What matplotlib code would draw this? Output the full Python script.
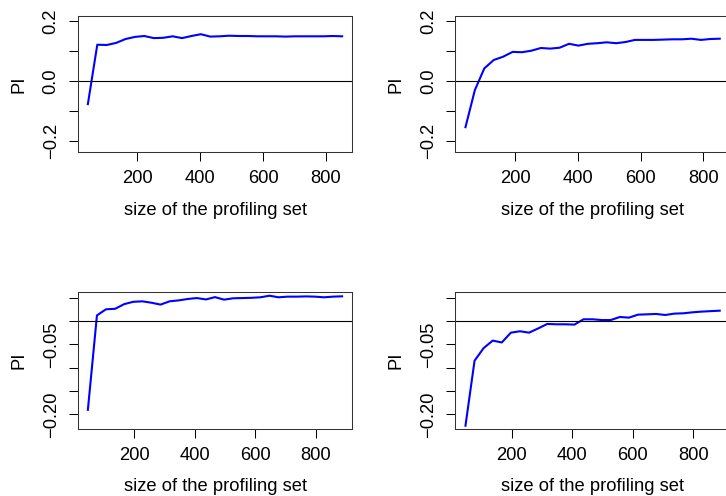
import matplotlib
matplotlib.use("Agg")
import matplotlib.pyplot as plt
import numpy as np

plt.rcParams['font.family'] = ['Liberation Sans', 'DejaVu Sans']

# x values (size of the profiling set)
x_top = [42, 72, 102, 132, 162, 192, 222, 252, 282, 312, 342, 372, 402, 432,
         462, 492, 522, 552, 582, 612, 642, 672, 702, 732, 762, 792, 822, 852]
x_bottom = [47, 77, 107, 137, 167, 197, 227, 257, 287, 317, 347, 377, 407, 437, 467,
            497, 527, 557, 587, 617, 647, 677, 707, 737, 767, 797, 827, 857, 887]

# PI values
pi_top_left = [-0.076, 0.122, 0.121, 0.128, 0.141, 0.148, 0.151, 0.144, 0.145, 0.150,
               0.144, 0.151, 0.157, 0.149, 0.150, 0.152, 0.151, 0.151, 0.150, 0.150,
               0.150, 0.149, 0.150, 0.150, 0.150, 0.150, 0.151, 0.150]
pi_top_right = [-0.153, -0.029, 0.043, 0.071, 0.082, 0.098, 0.097, 0.102, 0.111, 0.109,
                0.112, 0.125, 0.119, 0.125, 0.127, 0.130, 0.127, 0.131, 0.138, 0.138,
                0.138, 0.139, 0.140, 0.140, 0.142, 0.138, 0.141, 0.142]
pi_bottom_left = [-0.190, 0.012, 0.025, 0.026, 0.036, 0.041, 0.042, 0.039, 0.035, 0.042,
                  0.044, 0.047, 0.049, 0.046, 0.051, 0.0456, 0.0485, 0.049, 0.0495, 0.0506,
                  0.054, 0.0506, 0.052, 0.052, 0.0525, 0.052, 0.0506, 0.052, 0.0527]
pi_bottom_right = [-0.224, -0.085, -0.058, -0.042, -0.046, -0.025, -0.022, -0.025, -0.016,
                   -0.0064, -0.0071, -0.0071, -0.0078, 0.0036, 0.0036, 0.002, 0.002, 0.0085,
                   0.0071, 0.0135, 0.0142, 0.015, 0.0128, 0.0157, 0.0164, 0.0185, 0.020,
                   0.021, 0.022]

xticks = [200, 400, 600, 800]
top_yticks = [-0.2, -0.1, 0.0, 0.1, 0.2]
top_ylabels = ["\u22120.2", "", "0.0", "", "0.2"]
bot_yticks = [-0.20, -0.15, -0.10, -0.05, 0.0, 0.05]
bot_ylabels = ["\u22120.20", "", "", "\u22120.05", "", ""]

W, H = 726, 496
fig = plt.figure(figsize=(W / 100, H / 100), dpi=100)

def make_ax(left_px, top_px, w_px, h_px):
    return fig.add_axes([left_px / W, 1 - (top_px + h_px) / H, w_px / W, h_px / H])

panels = [
    (77.7, 15.7, x_top, pi_top_left, (9.6, 884.4), (-0.2367, 0.2187), top_yticks, top_ylabels),
    (455.3, 15.7, x_top, pi_top_right, (9.6, 884.4), (-0.2367, 0.2187), top_yticks, top_ylabels),
    (77.7, 292.3, x_bottom, pi_bottom_left, (13.4, 920.6), (-0.2308, 0.0613), bot_yticks, bot_ylabels),
    (455.3, 292.3, x_bottom, pi_bottom_right, (13.4, 920.6), (-0.2308, 0.0613), bot_yticks, bot_ylabels),
]

fs = 13.2
pw, ph = 274.6, 136.6
for left, top, xs, ys, xl, yl, yt, ytl in panels:
    ax = make_ax(left, top, pw, ph)
    ax.plot(xs, ys, color='#0000ff', lw=1.5)
    ax.axhline(0, color='black', lw=0.8)
    ax.set_xlim(*xl)
    ax.set_ylim(*yl)
    ax.set_xticks(xticks)
    ax.set_xticklabels([str(v) for v in xticks])
    ax.set_yticks(yt)
    ax.set_yticklabels(ytl, rotation=90, va='center')
    ax.tick_params(axis='both', direction='out', length=6.5, width=0.75,
                   labelsize=fs, colors='black')
    ax.tick_params(axis='x', pad=6.5)
    ax.tick_params(axis='y', pad=6.5)
    for s in ax.spines.values():
        s.set_linewidth(0.75)
        s.set_color('#333333')
    ax.set_xlabel("size of the profiling set", fontsize=fs)
    ax.xaxis.set_label_coords(0.5, -58 / ph)
    ax.xaxis.label.set_va('center')
    ax.set_ylabel("PI", fontsize=fs)
    ax.yaxis.set_label_coords(-59 / pw, 0.5)
    ax.yaxis.label.set_va('center')

fig.savefig("out.png", dpi=100)
